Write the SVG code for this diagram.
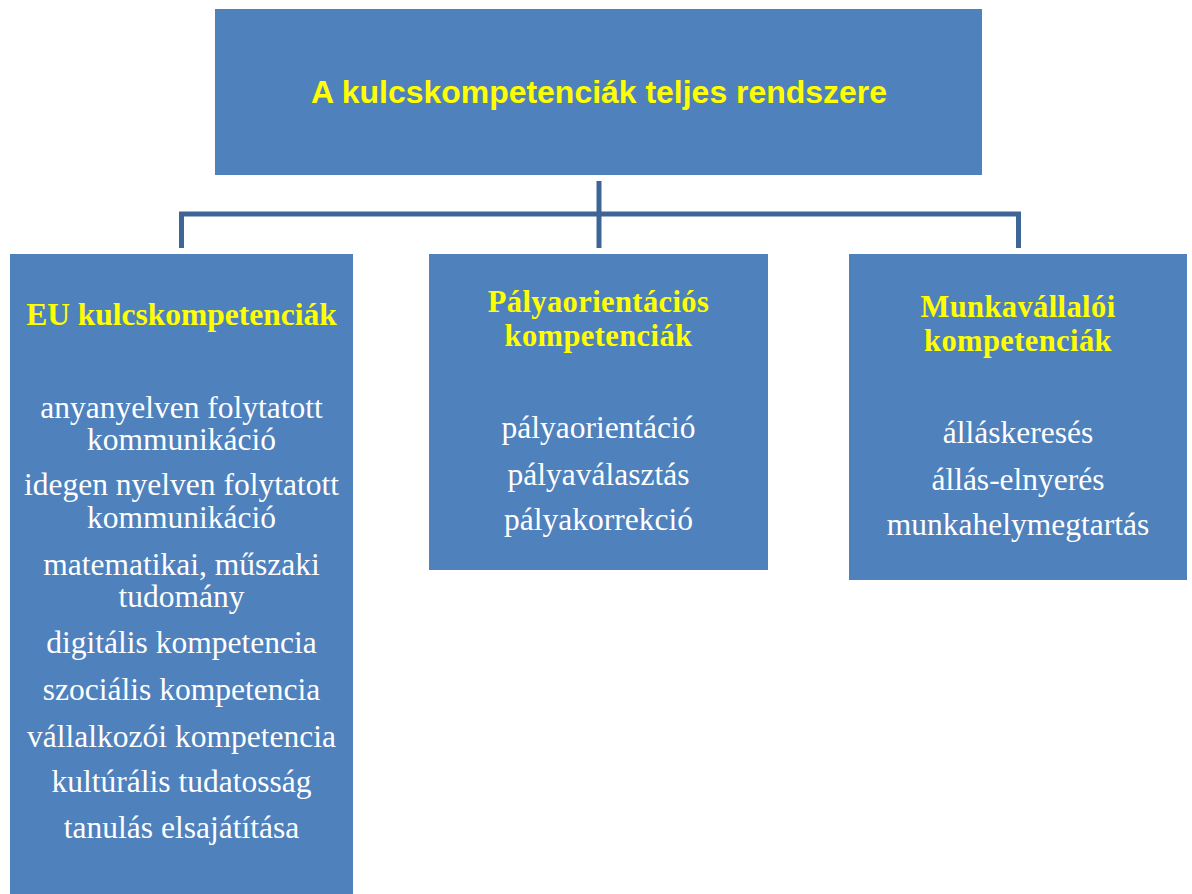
<svg xmlns="http://www.w3.org/2000/svg" width="1192" height="894" viewBox="0 0 1192 894">
  <style>
    .box { fill: #4F81BD; }
    .conn { fill: none; stroke: #3D6596; stroke-width: 5; stroke-linejoin: miter; }
    .title { font-family: "Liberation Sans", Arial, sans-serif; font-weight: bold; font-size: 31px; fill: #FFFF00; text-anchor: middle; }
    .head { font-family: "Liberation Serif", "Times New Roman", serif; font-weight: bold; font-size: 31.5px; fill: #FFFF00; text-anchor: middle; }
    .head2 { font-family: "Liberation Serif", "Times New Roman", serif; font-weight: bold; font-size: 30.5px; letter-spacing: 0.4px; fill: #FFFF00; text-anchor: middle; }
    .item { font-family: "Liberation Serif", "Times New Roman", serif; font-size: 31.5px; fill: #FFFFFF; text-anchor: middle; }
  </style>
  <rect width="1192" height="894" fill="#FFFFFF"/>

  <g id="connectors">
    <path class="conn" d="M599,181 V248"/>
    <path class="conn" d="M181.5,248 V214 H1018.5 V248"/>
  </g>

  <g id="node-root">
    <rect class="box" x="215" y="9" width="767" height="166"/>
    <text class="title" x="599" y="103" textLength="576" lengthAdjust="spacingAndGlyphs">A kulcskompetenciák teljes rendszere</text>
  </g>

  <g id="node-eu">
    <rect class="box" x="10" y="254" width="343" height="640"/>
    <text class="head" x="181.5" y="325">EU kulcskompetenciák</text>
    <text class="item" x="181.5" y="418">anyanyelven folytatott</text>
    <text class="item" x="181.5" y="450">kommunikáció</text>
    <text class="item" x="181.5" y="495">idegen nyelven folytatott</text>
    <text class="item" x="181.5" y="528">kommunikáció</text>
    <text class="item" x="181.5" y="575">matematikai, műszaki</text>
    <text class="item" x="181.5" y="607">tudomány</text>
    <text class="item" x="181.5" y="653">digitális kompetencia</text>
    <text class="item" x="181.5" y="700">szociális kompetencia</text>
    <text class="item" x="181.5" y="747">vállalkozói kompetencia</text>
    <text class="item" x="181.5" y="792">kultúrális tudatosság</text>
    <text class="item" x="181.5" y="838">tanulás elsajátítása</text>
  </g>

  <g id="node-palya">
    <rect class="box" x="429" y="254" width="339" height="316"/>
    <text class="head2" x="598.5" y="312">Pályaorientációs</text>
    <text class="head2" x="598.5" y="346">kompetenciák</text>
    <text class="item" x="598.5" y="438">pályaorientáció</text>
    <text class="item" x="598.5" y="485">pályaválasztás</text>
    <text class="item" x="598.5" y="530">pályakorrekció</text>
  </g>

  <g id="node-munka">
    <rect class="box" x="849" y="254" width="338" height="326"/>
    <text class="head2" x="1018" y="317">Munkavállalói</text>
    <text class="head2" x="1018" y="351">kompetenciák</text>
    <text class="item" x="1018" y="443">álláskeresés</text>
    <text class="item" x="1018" y="490">állás-elnyerés</text>
    <text class="item" x="1018" y="535">munkahelymegtartás</text>
  </g>
</svg>
